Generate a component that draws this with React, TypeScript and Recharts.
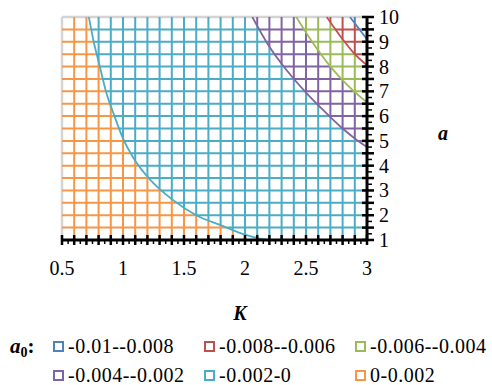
import React from "react";
import { ComposedChart, Line, XAxis, YAxis, ReferenceLine } from "recharts";

// mesh columns (K) and rows (a) of the wireframe
const meshK = [0.5, 0.6, 0.7, 0.8, 0.9, 1, 1.1, 1.2, 1.3, 1.4, 1.5, 1.6, 1.7, 1.8, 1.9, 2, 2.1, 2.2, 2.3, 2.4, 2.5, 2.6, 2.7, 2.8, 2.9, 3];
const meshA = [1, 1.5, 2, 2.5, 3, 3.5, 4, 4.5, 5, 5.5, 6, 6.5, 7, 7.5, 8, 8.5, 9, 9.5, 10];
const xLabels = [0.5, 1, 1.5, 2, 2.5, 3];
const yLabels = [1, 2, 3, 4, 5, 6, 7, 8, 9, 10];

// contour lines, as (K, a) points
const level0 = [
  { K: 0.72, a: 10 }, { K: 0.76, a: 9 }, { K: 0.81, a: 8 }, { K: 0.86, a: 7 },
  { K: 0.93, a: 6 }, { K: 1.0, a: 5.1 }, { K: 1.1, a: 4.2 }, { K: 1.22, a: 3.45 },
  { K: 1.4, a: 2.65 }, { K: 1.6, a: 2.0 }, { K: 1.8, a: 1.6 }, { K: 1.95, a: 1.3 },
  { K: 2.07, a: 1.12 }, { K: 2.2, a: 1.0 },
];
const level1 = [
  { K: 2.06, a: 10 }, { K: 2.2, a: 8.8 }, { K: 2.35, a: 7.8 }, { K: 2.5, a: 6.95 },
  { K: 2.65, a: 6.2 }, { K: 2.8, a: 5.5 }, { K: 2.9, a: 5.1 }, { K: 3.0, a: 4.75 },
];
const level2 = [
  { K: 2.42, a: 10 }, { K: 2.55, a: 9.0 }, { K: 2.7, a: 8.0 }, { K: 2.85, a: 7.2 }, { K: 3.0, a: 6.55 },
];
const level3 = [
  { K: 2.67, a: 10 }, { K: 2.8, a: 9.1 }, { K: 2.9, a: 8.5 }, { K: 3.0, a: 8.05 },
];
const level4 = [
  { K: 2.86, a: 10 }, { K: 2.93, a: 9.55 }, { K: 3.0, a: 9.1 },
];
const contours = [level0, level1, level2, level3, level4];

// bands from highest a0 (lower left) to lowest (upper right)
const bandNames = ["0-0.002", "-0.002-0", "-0.004--0.002", "-0.006--0.004", "-0.008--0.006", "-0.01--0.008"];
const bandColors = ["#F79646", "#4BACC6", "#8064A2", "#9BBB59", "#C0504D", "#4F81BD"];
const legendRows = [[5, 4, 3], [2, 1, 0]];

type Pt = { K: number; a: number | null };

function aAt(c: { K: number; a: number }[], k: number) {
  if (k < c[0].K) return Infinity;
  if (k > c[c.length - 1].K) return -Infinity;
  for (let i = 0; i < c.length - 1; i++) {
    if (k >= c[i].K && k <= c[i + 1].K) {
      const t = (k - c[i].K) / (c[i + 1].K - c[i].K);
      return c[i].a + t * (c[i + 1].a - c[i].a);
    }
  }
  return -Infinity;
}

function kAt(c: { K: number; a: number }[], a: number) {
  if (a > c[0].a) return -Infinity;
  if (a < c[c.length - 1].a) return Infinity;
  for (let i = 0; i < c.length - 1; i++) {
    if (a <= c[i].a && a >= c[i + 1].a) {
      const t = (c[i].a - a) / (c[i].a - c[i + 1].a);
      return c[i].K + t * (c[i + 1].K - c[i].K);
    }
  }
  return Infinity;
}

const bandAt = (k: number, a: number) => contours.filter((c) => a > aAt(c, k)).length;

// split every mesh line where a contour crosses it, and file the pieces by band
const meshByBand: Pt[][] = bandColors.map(() => []);
const addSeg = (band: number, p: Pt, q: Pt) => {
  meshByBand[band].push(p, q, { K: q.K, a: null });
};

meshK.slice(1).forEach((k) => {
  const cuts = contours.map((c) => aAt(c, k)).filter((v) => v > 1 && v < 10).sort((p, q) => p - q);
  const stops = [1, ...cuts, 10];
  for (let i = 0; i < stops.length - 1; i++) {
    addSeg(bandAt(k, (stops[i] + stops[i + 1]) / 2), { K: k, a: stops[i] }, { K: k, a: stops[i + 1] });
  }
});
meshA.slice(0, -1).forEach((a) => {
  const cuts = contours.map((c) => kAt(c, a)).filter((v) => v > 0.5 && v < 3).sort((p, q) => p - q);
  const stops = [0.5, ...cuts, 3];
  for (let i = 0; i < stops.length - 1; i++) {
    addSeg(bandAt((stops[i] + stops[i + 1]) / 2, a), { K: stops[i], a }, { K: stops[i + 1], a });
  }
});

const xTickMarks: number[] = [];
meshK.forEach((k, i) => {
  xTickMarks.push(k);
  if (i < meshK.length - 1) xTickMarks.push((k + meshK[i + 1]) / 2);
});
const yTickMarks: number[] = [];
meshA.forEach((a, i) => {
  yTickMarks.push(a);
  if (i < meshA.length - 1) yTickMarks.push((a + meshA[i + 1]) / 2);
});

const isOn = (v: number, list: number[]) => list.some((t) => Math.abs(t - v) < 1e-6);

const font = "'Liberation Serif', 'DejaVu Serif', serif";

const XTick = (props: any) => {
  const { x, y, payload } = props;
  const v = payload.value;
  const major = isOn(v, meshK);
  return (
    <g>
      {major ? (
        <line x1={x} x2={x} y1={y - 5} y2={y + 5} stroke="#000" strokeWidth={2.5} />
      ) : (
        <line x1={x} x2={x} y1={y} y2={y + 4} stroke="#000" strokeWidth={1.5} />
      )}
      {isOn(v, xLabels) && (
        <text x={x} y={y + 35} textAnchor="middle" fontSize={20} fill="#000" fontFamily={font}>
          {String(Math.round(v * 10) / 10)}
        </text>
      )}
    </g>
  );
};

const YTick = (props: any) => {
  const { x, y, payload } = props;
  const v = payload.value;
  const major = isOn(v, meshA);
  return (
    <g>
      {major ? (
        <line x1={x - 5} x2={x + 7} y1={y} y2={y} stroke="#000" strokeWidth={2.5} />
      ) : (
        <line x1={x} x2={x + 5} y1={y} y2={y} stroke="#000" strokeWidth={1.5} />
      )}
      {isOn(v, yLabels) && (
        <text x={x + 12} y={y + 7} textAnchor="start" fontSize={20} fill="#000" fontFamily={font}>
          {v}
        </text>
      )}
    </g>
  );
};

export default function App() {
  return (
    <div style={{ position: "absolute", left: 0, top: 0, width: 492, height: 385, background: "#fff", fontFamily: font }}>
      <ComposedChart width={492} height={300} margin={{ top: 17, right: 0, left: 62, bottom: 0 }}>
        <XAxis
          type="number"
          dataKey="K"
          domain={[0.5, 3]}
          ticks={xTickMarks}
          interval={0}
          tick={<XTick />}
          tickLine={false}
          tickSize={0}
          tickMargin={0}
          height={60}
          axisLine={{ stroke: "#000", strokeWidth: 3 }}
          allowDataOverflow
        />
        <YAxis
          type="number"
          dataKey="a"
          orientation="right"
          domain={[1, 10]}
          ticks={yTickMarks}
          interval={0}
          tick={<YTick />}
          tickLine={false}
          tickSize={0}
          tickMargin={0}
          width={125}
          axisLine={{ stroke: "#000", strokeWidth: 3 }}
          allowDataOverflow
        />
        <ReferenceLine x={0.5} stroke="#d4d4d4" strokeWidth={2.5} />
        <ReferenceLine y={10} stroke="#d4d4d4" strokeWidth={2.5} />
        {meshByBand.map((pts, i) => (
          <Line
            key={"mesh" + i}
            data={pts}
            dataKey="a"
            type="linear"
            stroke={bandColors[i]}
            strokeWidth={2}
            dot={false}
            activeDot={false}
            connectNulls={false}
            isAnimationActive={false}
          />
        ))}
        {contours.map((c, i) => (
          <Line
            key={"level" + i}
            data={c}
            dataKey="a"
            type="monotone"
            stroke={bandColors[i + 1]}
            strokeWidth={1.8}
            dot={false}
            activeDot={false}
            isAnimationActive={false}
          />
        ))}
      </ComposedChart>

      <div style={{ position: "absolute", left: 240, top: 302, transform: "translateX(-50%)", fontSize: 20, fontWeight: "bold", fontStyle: "italic", lineHeight: "22px" }}>
        K
      </div>
      <div style={{ position: "absolute", left: 443, top: 122, transform: "translateX(-50%)", fontSize: 20, fontWeight: "bold", fontStyle: "italic", lineHeight: "22px" }}>
        a
      </div>

      <div style={{ position: "absolute", left: 10, top: 336, fontSize: 21, fontWeight: "bold", lineHeight: "20px", whiteSpace: "nowrap" }}>
        <span style={{ fontStyle: "italic" }}>a</span>
        <sub style={{ fontSize: 14, verticalAlign: "-4px", lineHeight: "14px" }}>0</sub>
        <span>:</span>
      </div>
      {legendRows.map((row, r) =>
        row.map((b, c) => (
          <div
            key={b}
            style={{
              position: "absolute",
              left: [53, 204, 355][c],
              top: 337 + r * 29,
              height: 19,
              lineHeight: "19px",
              display: "flex",
              alignItems: "center",
              fontSize: 20,
              letterSpacing: "0.5px",
              whiteSpace: "nowrap",
            }}
          >
            <span style={{ display: "inline-block", boxSizing: "border-box", width: 11, height: 11, border: `2px solid ${bandColors[b]}`, marginRight: 4 }} />
            <span>{bandNames[b]}</span>
          </div>
        ))
      )}
    </div>
  );
}
